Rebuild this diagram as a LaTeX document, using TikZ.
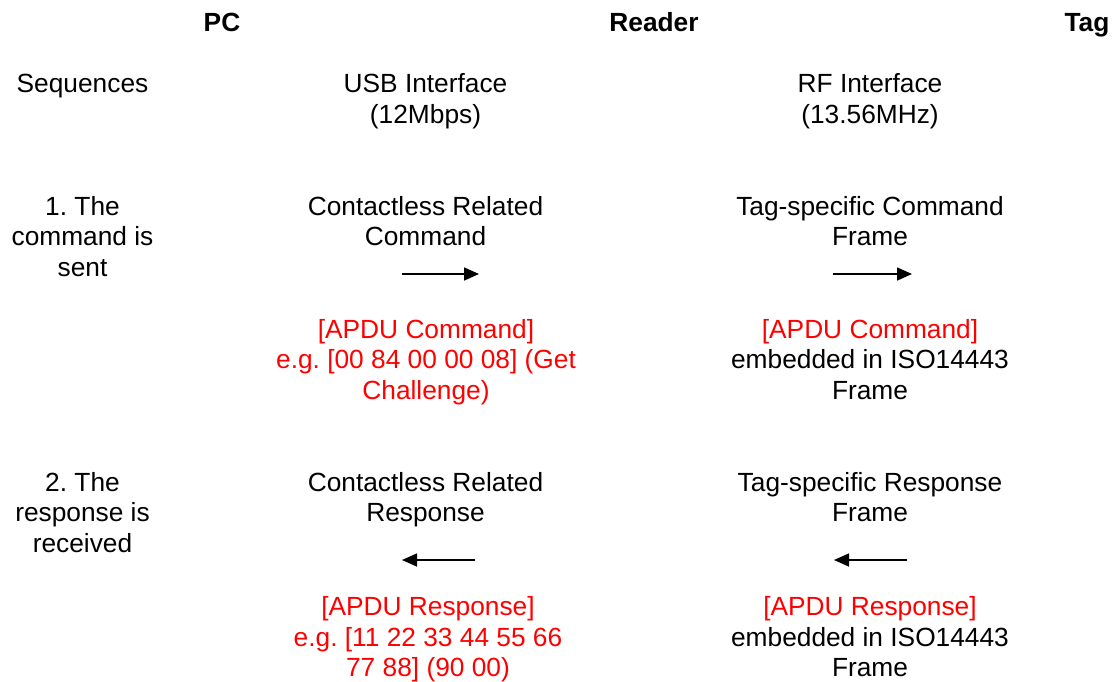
\documentclass[tikz,border=0pt]{standalone}
\usepackage{fontspec}
\setmainfont{Liberation Sans}
\usetikzlibrary{arrows.meta}
\frenchspacing
\begin{document}
\begin{tikzpicture}[x=1pt,y=-1pt,
  % multi-line labels sit on the baseline of their last line
  lbl/.style={anchor=base,align=center,inner sep=0pt,
    font=\fontsize{26.3}{30.7}\selectfont},
  hdr/.style={lbl,font=\fontsize{26.3}{30.7}\selectfont\bfseries},
  apdu/.style={lbl,text=red},
  flow/.style={line width=1.6pt,-{Triangle[length=15pt,width=13pt]}}]
\useasboundingbox (0,0) rectangle (1115,681);

% column headings
\node[hdr] (pc)     at (222,31.5)  {PC};
\node[hdr] (reader) at (654,31.5)  {Reader};
\node[hdr] (tag)    at (1087,31.5) {Tag};

% interface row
\node[lbl] (seq) at (82.5,92.5)   {Sequences};
\node[lbl] (usb) at (425.5,123.2) {USB Interface\\(12Mbps)};
\node[lbl] (rf)  at (870,123.2)   {RF Interface\\(13.56MHz)};

% step 1: command
\node[lbl] (s1)   at (82.5,276.4)  {1. The\\command is\\sent};
\node[lbl] (c1)   at (425.5,245.7) {Contactless Related\\Command};
\node[lbl] (t1)   at (870,245.7)   {Tag-specific Command\\Frame};
\coordinate (a1s) at (402,274);
\coordinate (a1e) at (479,274);
\coordinate (b1s) at (833,274);
\coordinate (b1e) at (912,274);
\draw[flow] (a1s) -- (a1e);
\draw[flow] (b1s) -- (b1e);
\node[apdu] (p1) at (426,399.4) {[APDU Command]\\e.g. [00 84 00 00 08] (Get\\Challenge)};
\node[lbl]  (f1) at (870,399.4) {{\color{red}[APDU Command]}\\embedded in ISO14443\\Frame};

% step 2: response
\node[lbl] (s2)   at (82.5,552.4)  {2. The\\response is\\received};
\node[lbl] (c2)   at (425.5,521.7) {Contactless Related\\Response};
\node[lbl] (t2)   at (870,521.7)   {Tag-specific Response\\Frame};
\coordinate (a2s) at (475,560);
\coordinate (a2e) at (402,560);
\coordinate (b2s) at (907,560);
\coordinate (b2e) at (834,560);
\draw[flow] (a2s) -- (a2e);
\draw[flow] (b2s) -- (b2e);
\node[apdu] (p2) at (428,676.9) {[APDU Response]\\e.g. [11 22 33 44 55 66\\77 88] (90 00)};
\node[lbl]  (f2) at (870,676.9) {{\color{red}[APDU Response]}\\embedded in ISO14443\\Frame};
\end{tikzpicture}
\end{document}
